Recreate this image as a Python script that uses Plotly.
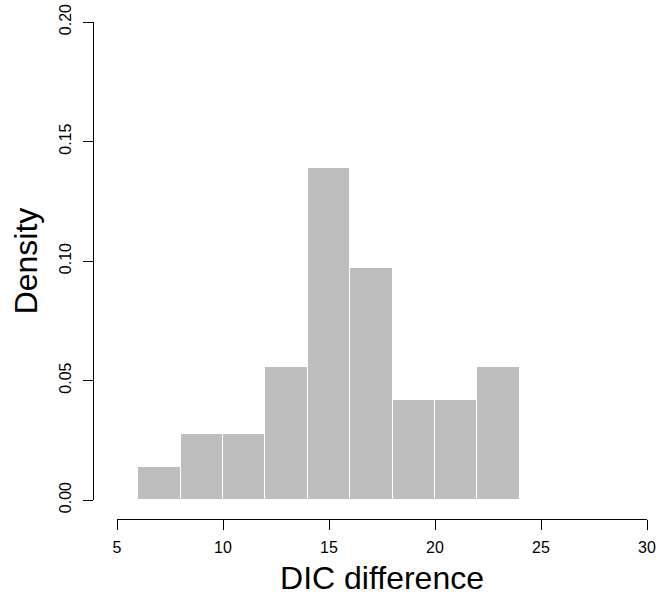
import plotly.graph_objects as go

# Histogram data (bin edges and counts), n = 36, bin width 2
bin_left = [6, 8, 10, 12, 14, 16, 18, 20, 22]
bin_width = 2
counts = [1, 2, 2, 4, 10, 7, 3, 3, 4]
n_total = sum(counts)
density = [c / (n_total * bin_width) for c in counts]
centers = [b + bin_width / 2 for b in bin_left]

x_ticks = [5, 10, 15, 20, 25, 30]
y_ticks = [0.00, 0.05, 0.10, 0.15, 0.20]

FONT = "Liberation Sans, Arial, Helvetica, sans-serif"

fig = go.Figure()
fig.add_trace(go.Bar(
    x=centers, y=density, width=[bin_width] * len(centers),
    marker=dict(color="#BEBEBE", line=dict(color="white", width=1)),
    showlegend=False, hoverinfo="x+y",
))

W, H = 657, 596
ml, mr, mt, mb = 93, 10, 22, 77
pw, ph = W - ml - mr, H - mt - mb
x_start_px = 117  # pixel where x=5 sits
y_zero_px = 500   # pixel where y=0 sits

fig.update_layout(
    width=W, height=H,
    margin=dict(l=ml, r=mr, t=mt, b=mb, autoexpand=False),
    paper_bgcolor="white", plot_bgcolor="white",
    bargap=0,
    font=dict(family=FONT, color="black"),
    xaxis=dict(
        domain=[(x_start_px - ml) / pw, 1], range=[5, 30],
        anchor="free", position=0,
        tickvals=x_ticks, ticktext=[str(v) for v in x_ticks],
        showline=True, linecolor="black", linewidth=1,
        ticks="outside", ticklen=10, tickwidth=1, tickcolor="black",
        ticklabelstandoff=4,
        tickfont=dict(size=16, family=FONT),
        showgrid=False, zeroline=False,
        title=dict(text="DIC difference", font=dict(size=32, family=FONT), standoff=13),
    ),
    yaxis=dict(
        domain=[(mt + ph - y_zero_px) / ph, 1], range=[0, 0.2],
        anchor="free", position=0,
        tickvals=y_ticks, ticktext=[f"{v:.2f}" for v in y_ticks],
        tickangle=-90,
        ticklabelstandoff=6,
        showline=True, linecolor="black", linewidth=1,
        ticks="outside", ticklen=10, tickwidth=1, tickcolor="black",
        tickfont=dict(size=16, family=FONT),
        showgrid=False, zeroline=False,
        title=dict(text="Density", font=dict(size=32, family=FONT), standoff=8),
    ),
)

fig.write_html("out.html")
